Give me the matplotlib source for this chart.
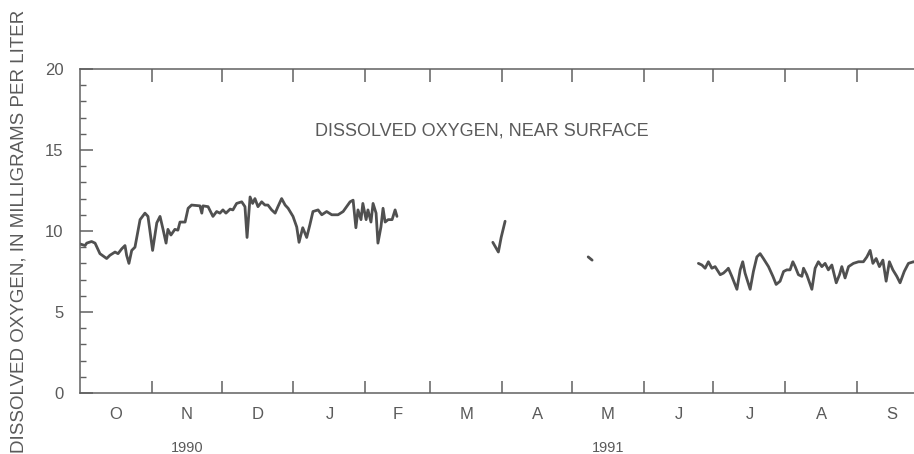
import datetime as dt
import numpy as np
import matplotlib
matplotlib.use("Agg")
import matplotlib.pyplot as plt
from matplotlib.ticker import MultipleLocator, FixedLocator, NullFormatter
import matplotlib.transforms as mtransforms

# days since 1 Oct 1990 and dissolved oxygen (mg/L)
fall_day = [0.0, 2.2, 2.9, 5.0, 6.5, 8.6, 11.5, 12.9, 15.1, 16.4, 18.0, 19.4, 20.1, 21.1,
            22.3, 23.7, 25.9, 28.0, 29.3, 31.3, 33.1, 34.5, 35.8, 37.1, 37.9, 39.2, 40.9,
            42.2, 43.1, 45.3, 46.6, 48.1, 51.7, 52.5, 53.0, 55.2, 57.3, 58.9, 60.3, 61.6,
            62.9, 64.7, 65.9, 67.5, 69.7, 71.1, 72.0, 73.3, 74.4, 75.4, 76.7, 78.3, 79.7,
            81.0, 82.6, 84.1, 85.3, 86.9, 88.4, 89.7, 91.8, 93.4, 94.4, 96.0, 97.7, 99.1,
            100.4, 102.6, 104.2, 106.3, 108.5, 111.2, 113.4, 116.4, 117.7, 118.9, 119.8,
            121.1, 121.9, 123.3, 124.1, 125.4, 126.3, 127.6, 128.4, 129.7, 130.6, 131.5,
            132.8, 134.5, 135.8, 136.6]
fall_do = [9.2, 9.1, 9.25, 9.35, 9.25, 8.6, 8.3, 8.5, 8.7, 8.6, 8.9, 9.1, 8.5, 8.0,
           8.8, 9.0, 10.7, 11.1, 10.9, 8.8, 10.5, 10.9, 10.1, 9.25, 10.1, 9.75, 10.1,
           10.05, 10.55, 10.55, 11.4, 11.6, 11.55, 11.1, 11.55, 11.5, 10.9, 11.2, 11.1, 11.3,
           11.1, 11.35, 11.3, 11.7, 11.8, 11.5, 9.6, 12.1, 11.7, 12.0, 11.5, 11.8, 11.6,
           11.6, 11.3, 11.1, 11.5, 12.0, 11.6, 11.4, 10.9, 10.25, 9.3, 10.2, 9.6, 10.4,
           11.2, 11.3, 11.0, 11.2, 11.0, 11.0, 11.2, 11.8, 11.9, 10.2, 11.3,
           10.7, 11.7, 10.7, 11.3, 10.55, 11.7, 11.1, 9.25, 10.25, 11.4, 10.55,
           10.7, 10.7, 11.3, 10.9]

march_day = [177.9, 180.3, 181.5, 183.2]
march_do = [9.3, 8.7, 9.6, 10.6]

may_day = [219.0, 220.7]
may_do = [8.4, 8.2]

summer_day = [266.5, 268.0, 269.4, 270.8, 272.3, 273.7, 275.9, 277.3, 278.8, 279.4, 280.9,
              283.1, 284.5, 285.6, 286.6, 288.8, 290.2, 291.7, 293.1, 294.5, 296.7, 298.6,
              300.0, 301.7, 303.2, 304.6, 306.0, 307.2, 308.2, 309.6, 311.1, 311.8, 313.2,
              315.4, 316.8, 318.2, 319.7, 321.1, 322.5, 324.0, 325.9, 327.3, 328.3, 329.7,
              331.2, 333.3, 335.5, 337.6, 339.1, 340.5, 341.7, 343.1, 344.5, 346.0, 347.4,
              348.8, 350.3, 352.0, 353.4, 355.2, 357.0, 359.2, 361.2]
summer_do = [8.0, 7.9, 7.7, 8.1, 7.7, 7.8, 7.3, 7.4, 7.6, 7.7, 7.2,
             6.4, 7.6, 8.1, 7.4, 6.4, 7.5, 8.4, 8.6, 8.3, 7.8, 7.2,
             6.7, 6.9, 7.5, 7.6, 7.6, 8.1, 7.8, 7.3, 7.2, 7.7, 7.3,
             6.4, 7.7, 8.1, 7.8, 8.0, 7.6, 7.9, 6.8, 7.3, 7.8, 7.1,
             7.8, 8.0, 8.1, 8.1, 8.4, 8.8, 8.0, 8.3, 7.8, 8.2, 6.9,
             8.1, 7.6, 7.2, 6.8, 7.5, 8.0, 8.1, 8.0]

month_letters = ["O", "N", "D", "J", "F", "M", "A", "M", "J", "J", "A", "S"]
year_labels = ["1990", "1991"]
year_label_month = [1, 7]  # placed under N and M

ylabel = "DISSOLVED OXYGEN, IN MILLIGRAMS PER LITER"
title = "DISSOLVED OXYGEN, NEAR SURFACE"

start = dt.date(1990, 10, 1)
month_starts = [(dt.date(1990 + (9 + k) // 12, (9 + k) % 12 + 1, 1) - start).days
                for k in range(13)]
month_mid = [(a + b) / 2 for a, b in zip(month_starts[:-1], month_starts[1:])]

ink = "#505050"
text_c = "#5a5a5a"
plt.rcParams["font.family"] = ["Liberation Sans", "DejaVu Sans"]

fig = plt.figure(figsize=(9.14, 4.54), dpi=100)
ax = fig.add_axes([0.0875, 0.1344, 0.9267, 0.7137])

for d, v in [(fall_day, fall_do), (march_day, march_do), (may_day, may_do),
             (summer_day, summer_do)]:
    ax.plot(d, v, color=ink, lw=2.0, solid_joinstyle="round", solid_capstyle="round")

ax.set_xlim(month_starts[0], month_starts[-1])
ax.set_ylim(0, 20)

for s in ax.spines.values():
    s.set_color("#606060")
    s.set_linewidth(1.1)

ax.yaxis.set_major_locator(MultipleLocator(5))
ax.yaxis.set_minor_locator(MultipleLocator(1))
ax.tick_params(axis="y", which="major", direction="in", length=9, width=1.1,
               colors="#606060", labelcolor=text_c, labelsize=12, pad=12,
               left=True, right=True)
ax.tick_params(axis="y", which="minor", direction="in", length=4.5, width=1.0,
               colors="#606060", left=True, right=True)

ax.xaxis.set_major_locator(FixedLocator(month_starts[1:-1]))
ax.xaxis.set_major_formatter(NullFormatter())
ax.xaxis.set_minor_locator(FixedLocator(month_mid))
ax.xaxis.set_minor_formatter(plt.FixedFormatter(month_letters))
ax.tick_params(axis="x", which="major", direction="in", length=9, width=1.1,
               colors="#606060", top=True, bottom=True)
ax.tick_params(axis="x", which="minor", length=0, labelsize=12, labelcolor=text_c, pad=10)

trans = mtransforms.blended_transform_factory(ax.transData, ax.transAxes)
for lab, m in zip(year_labels, year_label_month):
    ax.text(month_mid[m], -0.17, lab, transform=trans, ha="center", va="center",
            fontsize=10.5, color=text_c)

ax.text(0.475, 0.81, title, transform=ax.transAxes, ha="center", va="center",
        fontsize=13, color=text_c)

fig.text(0.021, 0.49, ylabel, rotation=90, ha="center", va="center",
         fontsize=13.5, color=text_c)

fig.savefig("out.png", dpi=100, facecolor="white")
